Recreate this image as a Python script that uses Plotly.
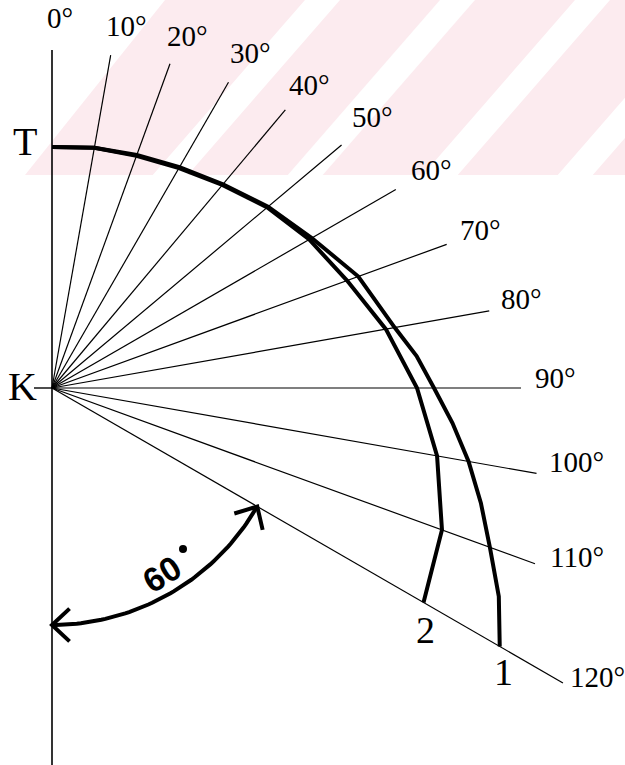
import math
import plotly.graph_objects as go

# ---------------- data ----------------
RAY_ANGLES = [0, 10, 20, 30, 40, 50, 60, 70, 80, 90, 100, 110, 120]
RAY_LABELS = ["0°", "10°", "20°", "30°", "40°", "50°", "60°", "70°", "80°", "90°", "100°", "110°", "120°"]
RAY_LENGTHS = [338, 338, 345, 353, 363, 378, 397, 420, 444, 469, 492, 514, 590]

CURVE1_ANGLES = [0, 10, 20, 30, 40, 50, 60, 70, 80, 85, 90, 95, 100, 105, 110, 115, 120]
CURVE1_R = [241, 244, 248, 255, 266, 282, 300, 326, 348, 366, 382, 402, 423, 444, 466, 493, 517]

CURVE2_ANGLES = [0, 10, 20, 30, 40, 50, 60, 70, 80, 90, 100, 110, 120]
CURVE2_R = [241, 244, 247, 254, 265, 281, 297, 314, 339, 365, 391, 415, 429]

ARC_FROM, ARC_TO, ARC_R = 120, 180, 237
ARC_LABEL = "60"

# ---------------- layout helpers ----------------
W, H = 625, 765
KX, KY = 52, 388          # pixel position of pole K
BOTTOM_LEN = H - KY       # vertical line below K


def polar(theta_deg, r):
    t = math.radians(theta_deg)
    return r * math.sin(t), r * math.cos(t)


def px(xp, yp):
    return xp - KX, KY - yp


fig = go.Figure()
LINE = "black"

# vertical axis line
fig.add_trace(go.Scatter(x=[0, 0], y=[RAY_LENGTHS[0], -BOTTOM_LEN], mode="lines",
                         line=dict(color=LINE, width=1.6), hoverinfo="skip"))
# short tick at K
fig.add_trace(go.Scatter(x=[-18, 0], y=[0, 0], mode="lines",
                         line=dict(color=LINE, width=1.4), hoverinfo="skip"))
# rays
for a, L in zip(RAY_ANGLES[1:], RAY_LENGTHS[1:]):
    x, y = polar(a, L)
    fig.add_trace(go.Scatter(x=[0, x], y=[0, y], mode="lines",
                             line=dict(color=LINE, width=1.2), hoverinfo="skip"))

# curves
for angs, rs in ((CURVE1_ANGLES, CURVE1_R), (CURVE2_ANGLES, CURVE2_R)):
    pts = [polar(a, r) for a, r in zip(angs, rs)]
    fig.add_trace(go.Scatter(x=[p[0] for p in pts], y=[p[1] for p in pts], mode="lines",
                             line=dict(color=LINE, width=4), hoverinfo="skip"))

# 60 degree arc with arrowheads
n = 60
arc = [polar(ARC_FROM + (ARC_TO - ARC_FROM) * i / n, ARC_R) for i in range(n + 1)]
fig.add_trace(go.Scatter(x=[p[0] for p in arc], y=[p[1] for p in arc], mode="lines",
                         line=dict(color=LINE, width=4), hoverinfo="skip"))


def arrow_head(theta, direction):
    tx, ty = polar(theta, ARC_R)
    t = math.radians(theta)
    dx, dy = math.cos(t), -math.sin(t)
    bx, by = dx * direction, dy * direction   # back direction (into arc)
    arm = 24
    out = []
    for s in (-1, 1):
        ang = math.radians(43) * s
        ax = bx * math.cos(ang) - by * math.sin(ang)
        ay = bx * math.sin(ang) + by * math.cos(ang)
        out.append((tx + arm * ax, ty + arm * ay))
    return [out[0], (tx, ty), out[1]]


for theta, d in ((ARC_FROM, 1), (ARC_TO, -1)):
    pts = arrow_head(theta, d)
    fig.add_trace(go.Scatter(x=[p[0] for p in pts], y=[p[1] for p in pts], mode="lines",
                             line=dict(color=LINE, width=4), hoverinfo="skip"))

# degree dot of arc label
dotx, doty = px(183, 549)
fig.add_trace(go.Scatter(x=[dotx], y=[doty], mode="markers",
                         marker=dict(color=LINE, size=8), hoverinfo="skip"))

annotations = []
SERIF = "Liberation Serif"
LABEL_OFF = [(8, -32), (16, -29), (17, -28), (22, -29), (24, -25), (31, -28), (36, -20),
             (34, -14), (32, -12), (34, -10), (40, -11), (42, -7), (35, -6)]
for a, L, txt, (ox, oy) in zip(RAY_ANGLES, RAY_LENGTHS, RAY_LABELS, LABEL_OFF):
    x, y = polar(a, L)
    annotations.append(dict(x=x + ox, y=y - oy, text=txt, showarrow=False,
                            font=dict(family=SERIF, size=29, color="black"),
                            xanchor="center", yanchor="middle"))

for txt, (xp, yp), size in (("T", (25, 141), 40), ("K", (22, 386), 40),
                            ("2", (425, 630), 38), ("1", (503, 672), 38)):
    x, y = px(xp, yp)
    annotations.append(dict(x=x, y=y, text=txt, showarrow=False,
                            font=dict(family=SERIF, size=size, color="black"),
                            xanchor="center", yanchor="middle"))

lx, ly = px(162, 574)
annotations.append(dict(x=lx, y=ly, text="<b>" + ARC_LABEL + "</b>", showarrow=False, textangle=-32,
                        font=dict(family="Liberation Sans", size=34, color="black"),
                        xanchor="center", yanchor="middle"))

# faint pink watermark stripes in the top band
PINK = "#fcebef"
shapes = []


def poly(points, color):
    pts = [px(a, b) for a, b in points]
    path = "M " + " L ".join(f"{x},{y}" for x, y in pts) + " Z"
    return dict(type="path", path=path, fillcolor=color, line=dict(width=0),
                layer="below", xref="x", yref="y")


band = 175
shapes.append(poly([(165, 0), (W, 0), (W, band), (25, band)], PINK))
slope = 0.87
for t in (305, 440, 575, 710):
    shapes.append(poly([(t, 0), (t + 35, 0), (t + 35 - slope * band, band),
                        (t - slope * band, band)], "white"))

fig.update_layout(
    width=W, height=H, margin=dict(l=0, r=0, t=0, b=0),
    paper_bgcolor="white", plot_bgcolor="white", showlegend=False,
    xaxis=dict(range=[-KX, W - KX], visible=False, fixedrange=True),
    yaxis=dict(range=[KY - H, KY], visible=False, fixedrange=True),
    annotations=annotations, shapes=shapes,
)

fig.write_html("out.html", config={"displayModeBar": False},
               post_script="document.body.style.margin='0';document.body.style.overflow='hidden';")
